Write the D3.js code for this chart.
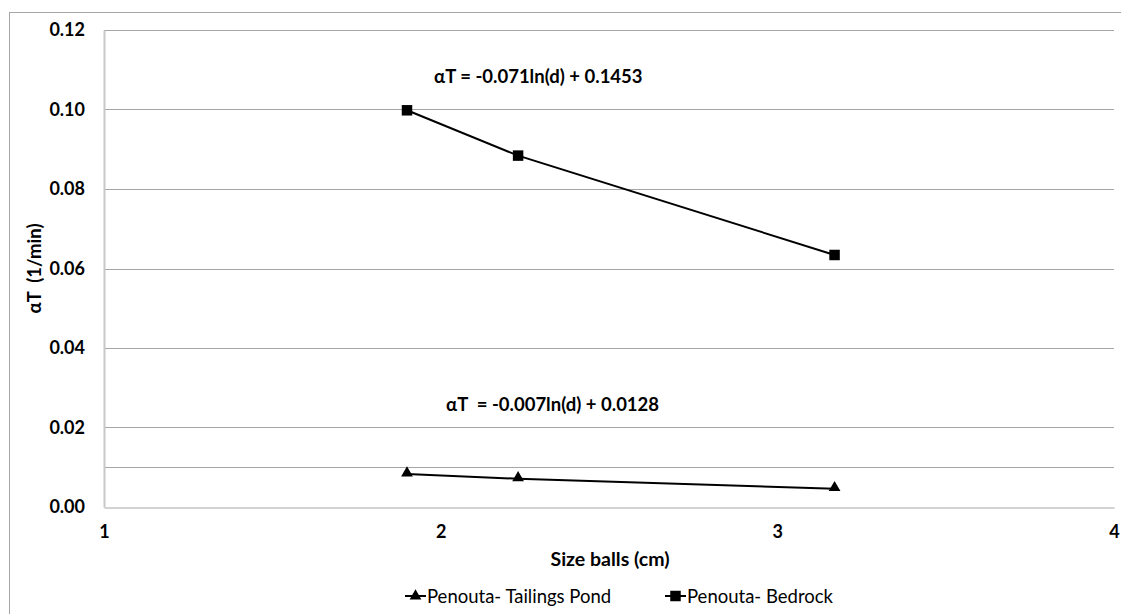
<!doctype html>
<html lang="en">
<head>
  <meta charset="utf-8">
  <title>Size balls vs aT</title>
  <script src="https://d3js.org/d3.v7.min.js"></script>
  <style>
    body { margin: 0; background: #fff; }
    text { font-family: Lato, "Open Sans", sans-serif; white-space: pre; }
  </style>
</head>
<body>
  <div id='my_chart'></div>
<script>
  const width = 1121;
  const height = 614;
  const margin = {top: 30, right: 7, bottom: 107, left: 104};

  // data
  const sizes = [1.9, 2.23, 3.17];
  const tailings = [0.0083, 0.0071, 0.0046];
  const bedrock = [0.0998, 0.0884, 0.0634];
  const series_names = ['Penouta- Tailings Pond', 'Penouta- Bedrock'];
  const x_ticks = [1, 2, 3, 4];
  const y_ticks = [0, 0.02, 0.04, 0.06, 0.08, 0.10, 0.12];
  const grid_values = [0.01, 0.02, 0.04, 0.06, 0.08, 0.10, 0.12];
  const eq_bedrock = 'αT = -0.071ln(d) + 0.1453';
  const eq_tailings = 'αT  = -0.007ln(d) + 0.0128';

  const x = d3.scaleLinear()
    .domain([1, 4])
    .range([margin.left, width - margin.right]);
  const y = d3.scaleLinear()
    .domain([0, 0.12])
    .range([height - margin.bottom, margin.top]);

  const svg = d3.select('#my_chart').append('svg')
    .attr('width', width)
    .attr('height', height);

  // outer chart border
  svg.append('rect')
    .attr('x', 9.5).attr('y', 12.5)
    .attr('width', width + 20).attr('height', height + 20)
    .attr('fill', 'none')
    .attr('stroke', '#a6a6a6');

  // gridlines
  svg.append('g')
    .selectAll('line')
    .data(grid_values)
    .join('line')
      .attr('x1', x(1)).attr('x2', x(4))
      .attr('y1', d => Math.round(y(d)) + 0.5)
      .attr('y2', d => Math.round(y(d)) + 0.5)
      .attr('stroke', '#a6a6a6');

  // axes
  const y_axis = svg.append('g')
    .attr('transform', 'translate(' + x(1) + ',0)')
    .call(d3.axisLeft(y).tickValues(y_ticks).tickFormat(d3.format('.2f')).tickSize(0).tickPadding(19));
  y_axis.select('.domain').attr('stroke', '#c8c8c8').attr('stroke-width', 2);

  const x_axis = svg.append('g')
    .attr('transform', 'translate(0,' + (y(0) + 0.5) + ')')
    .call(d3.axisBottom(x).tickValues(x_ticks).tickFormat(d3.format('d')).tickSize(0).tickPadding(18));
  x_axis.select('.domain').attr('stroke', '#a6a6a6');

  svg.selectAll('.tick text')
    .attr('font-family', 'Lato, "Open Sans", sans-serif')
    .attr('font-size', 18)
    .attr('font-weight', 'bold')
    .attr('fill', '#000');

  // axis titles
  svg.append('text')
    .attr('transform', 'translate(41,' + y(0.06) + ') rotate(-90)')
    .attr('text-anchor', 'middle')
    .attr('font-size', 18.5)
    .attr('font-weight', 'bold')
    .text('αT  (1/min)');
  svg.append('text')
    .attr('x', 610).attr('y', 566)
    .attr('text-anchor', 'middle')
    .attr('font-size', 19.5)
    .attr('font-weight', 'bold')
    .text('Size balls (cm)');

  // lines
  const line = d3.line()
    .x((d, i) => x(sizes[i]))
    .y(d => y(d));

  const all_series = [tailings, bedrock];
  svg.append('g')
    .selectAll('path')
    .data(all_series)
    .join('path')
      .attr('d', line)
      .attr('fill', 'none')
      .attr('stroke', '#000')
      .attr('stroke-width', 2);

  const triangle = d3.symbol().type(d3.symbolTriangle).size(60);
  const square = d3.symbol().type(d3.symbolSquare).size(110);

  svg.append('g')
    .selectAll('path')
    .data(tailings)
    .join('path')
      .attr('transform', (d, i) => 'translate(' + x(sizes[i]) + ',' + (y(d) - 1) + ')')
      .attr('d', triangle)
      .attr('fill', '#000');

  svg.append('g')
    .selectAll('path')
    .data(bedrock)
    .join('path')
      .attr('transform', (d, i) => 'translate(' + x(sizes[i]) + ',' + y(d) + ')')
      .attr('d', square)
      .attr('fill', '#000');

  // equations
  svg.append('text')
    .attr('x', 434).attr('y', 83)
    .attr('font-size', 18.5)
    .attr('font-weight', 'bold')
    .text(eq_bedrock);
  svg.append('text')
    .attr('x', 446).attr('y', 411)
    .attr('font-size', 18.5)
    .attr('font-weight', 'bold')
    .text(eq_tailings);

  // legend
  const legend_x = [405, 665];
  const legend = svg.append('g')
    .selectAll('g')
    .data(series_names)
    .join('g')
      .attr('transform', (d, i) => 'translate(' + legend_x[i] + ',596)');
  legend.append('line')
    .attr('x1', 0).attr('x2', 21)
    .attr('stroke', '#000').attr('stroke-width', 2);
  legend.append('path')
    .attr('transform', 'translate(10.5,0)')
    .attr('d', (d, i) => i === 0 ? triangle() : square())
    .attr('fill', '#000');
  legend.append('text')
    .attr('x', 22).attr('y', 6.5)
    .attr('font-size', 18.5)
    .text(d => d);
</script>
</body>
</html>
